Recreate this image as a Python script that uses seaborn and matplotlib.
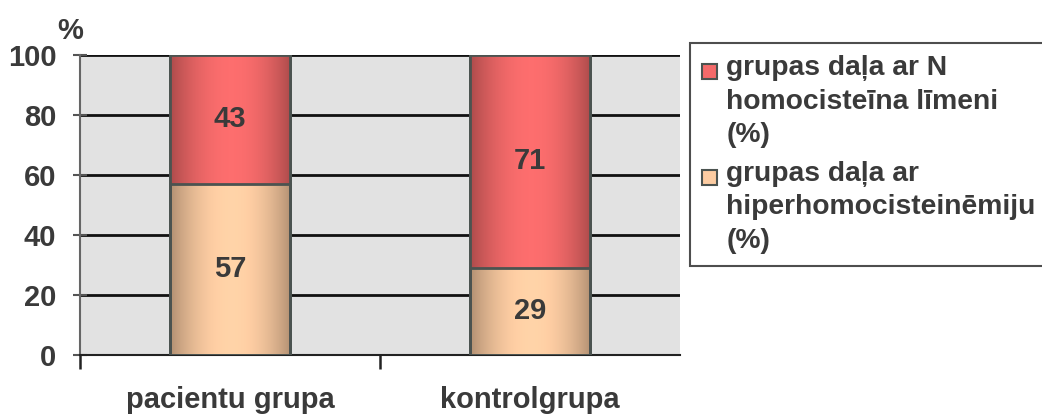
import numpy as np
import pandas as pd
import matplotlib
matplotlib.use("Agg")
import matplotlib.pyplot as plt
from matplotlib.colors import to_rgb
from matplotlib.patches import Patch, Rectangle
from matplotlib.legend_handler import HandlerPatch
import seaborn as sns

# Data
categories = ["pacientu grupa", "kontrolgrupa"]
hyper_pct = [57, 29]      # grupas daļa ar hiperhomocisteinēmiju (%)
normal_pct = [43, 71]     # grupas daļa ar N homocisteīna līmeni (%)
y_ticks = [0, 20, 40, 60, 80, 100]

label_normal = "grupas daļa ar N\nhomocisteīna līmeni\n(%)"
label_hyper = "grupas daļa ar\nhiperhomocisteinēmiju\n(%)"

df = pd.DataFrame({
    "grupa": categories,
    "hyper": hyper_pct,
    "normal": normal_pct,
})
df["total"] = df["hyper"] + df["normal"]

sns.set_theme(style="white")
plt.rcParams["font.family"] = ["Liberation Sans", "DejaVu Sans"]
plt.rcParams["font.weight"] = "bold"

FS = 21
LEG_FS = 20.3
text_col = "#3a3a3a"
red = "#f46a6a"
peach = "#fccca2"
edge = "#4b5350"

fig = plt.figure(figsize=(10.42, 4.15), dpi=100)
ax = fig.add_axes([0.0768, 0.1446, 0.5758, 0.7229])
ax.set_facecolor("#e2e2e2")

# stacked bars: full height first, lower segment on top of it
sns.barplot(data=df, x="grupa", y="total", color=red, width=0.4,
            edgecolor=edge, linewidth=2, saturation=1, ax=ax, zorder=3)
sns.barplot(data=df, x="grupa", y="hyper", color=peach, width=0.4,
            edgecolor=edge, linewidth=2, saturation=1, ax=ax, zorder=3)

# cylinder shading across each bar
t = np.linspace(0, 1, 200)
shade = 0.62 + 0.38 * np.clip(np.sin(np.pi * (t * 0.92 + 0.04)) ** 0.7, 0, 1)
shade = shade * (1 + 0.04 * np.cos(np.pi * (t - 0.6)))
for patch in list(ax.patches):
    base = np.array(to_rgb(patch.get_facecolor()))
    x0, y0 = patch.get_x(), patch.get_y()
    w, h = patch.get_width(), patch.get_height()
    if h <= 0:
        continue
    img = np.clip(base[None, :] * shade[:, None], 0, 1)[None, :, :]
    im = ax.imshow(img, extent=[x0, x0 + w, y0, y0 + h], aspect="auto",
                   zorder=3.5, interpolation="bilinear")
    im.set_clip_path(patch)
    # outline above the shading
    ax.add_patch(Rectangle((x0, y0), w, h, fill=False, edgecolor=edge,
                           linewidth=2, zorder=4))

# value labels centred in each segment
for i in range(len(categories)):
    ax.text(i, hyper_pct[i] / 2, str(hyper_pct[i]), ha="center", va="center",
            fontsize=FS, fontweight="bold", color=text_col, zorder=5)
    ax.text(i, hyper_pct[i] + normal_pct[i] / 2, str(normal_pct[i]),
            ha="center", va="center", fontsize=FS, fontweight="bold",
            color=text_col, zorder=5)

ax.set_xlim(-0.5, 1.5)
ax.set_ylim(0, 100)
ax.set_yticks(y_ticks)
ax.set_yticklabels([str(v) for v in y_ticks], fontsize=FS, fontweight="bold",
                   color=text_col)
ax.set_xticks(range(len(categories)))
ax.set_xticklabels(categories, fontsize=FS, fontweight="bold", color=text_col)
ax.set_xticks([-0.5, 0.5], minor=True)
ax.tick_params(axis="x", which="major", length=0, pad=22)
ax.tick_params(axis="x", which="minor", length=10, width=1.8, color="#222222",
               direction="out", bottom=True)
ax.tick_params(axis="y", length=10, width=1.5, color="#555555",
               direction="inout", left=True, pad=12)
ax.set_xlabel("")
ax.set_ylabel("")

ax.yaxis.grid(True, color="#111111", linewidth=2)
ax.set_axisbelow(True)
for s in ["top", "right"]:
    ax.spines[s].set_visible(False)
ax.spines["left"].set_color("#666666")
ax.spines["left"].set_linewidth(1.5)
ax.spines["bottom"].set_color("#222222")
ax.spines["bottom"].set_linewidth(1.5)

fig.text(0.067, 0.925, "%", fontsize=FS, fontweight="bold", color=text_col,
         ha="center", va="center")


# legend: small square key aligned with the first line of each entry
def top_square(legend, orig_handle, xdescent, ydescent, width, height, fontsize):
    s = 0.52 * fontsize
    return Rectangle((-xdescent, height - ydescent - s + 0.02 * fontsize), s, s)


handles = [Patch(facecolor=red, edgecolor=edge, linewidth=1.5),
           Patch(facecolor=peach, edgecolor=edge, linewidth=1.5)]
leg = fig.legend(handles, [label_normal, label_hyper], loc="upper left",
                 bbox_to_anchor=(0.662, 0.897), frameon=True, fancybox=False,
                 fontsize=LEG_FS, handlelength=0.52, handleheight=3.9,
                 handletextpad=0.32, borderpad=0.45, labelspacing=0.45,
                 borderaxespad=0,
                 handler_map={Patch: HandlerPatch(patch_func=top_square)})
leg.get_frame().set_edgecolor("#222222")
leg.get_frame().set_linewidth(1.5)
for txt in leg.get_texts():
    txt.set_color(text_col)
    txt.set_fontweight("bold")
    txt.set_linespacing(1.37)

fig.savefig("out.png", dpi=100)
